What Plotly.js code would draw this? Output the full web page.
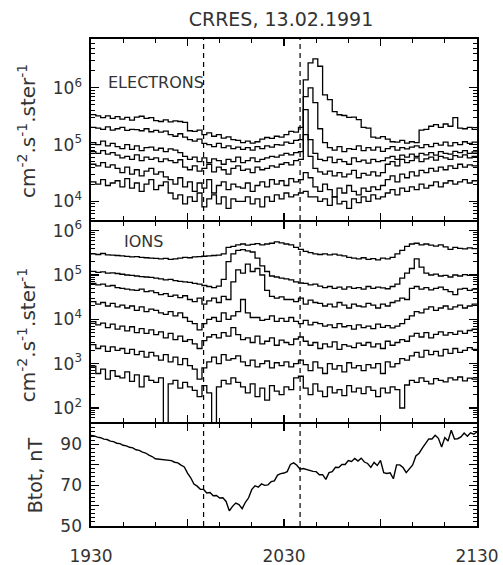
<!DOCTYPE html>
<html><head><meta charset="utf-8">
<script src="https://cdn.plot.ly/plotly-3.0.1.min.js"></script>
<style>html,body{margin:0;padding:0;background:#fff}#chart{width:503px;height:565px}</style>
</head><body><div id="chart"></div>
<script>
// ---- time axis (minutes after 19:30 UT) ----
const timeLabelMinutes = [0, 60, 120];
const timeTickLabels = ['1930', '2030', '2130'];
const timeHalfHourMinutes = [30, 90];
const eventMinutes = [35, 65];          // dashed markers (20:05, 20:35)
const binMinutes = 1.5;                 // particle-flux accumulation interval

// ---- electron fluxes (units of 1e3 cm^-2 s^-1 ster^-1), highest channel first ----
const elecUnit = 1e3;
const elec1 = [336,320,298,320,290,310,280,300,270,305,315,290,298,265,255,272,250,262,255,245,175,170,180,150,160,140,150,130,136,122,118,108,115,106,112,125,133,128,140,135,150,170,165,200,1380,2750,3230,2400,750,620,380,335,325,300,305,275,200,195,135,130,138,125,112,110,118,106,112,108,180,185,210,225,200,230,210,298,195,190,200,185];
const elec2 = [200,195,185,205,180,190,200,178,185,183,175,190,168,178,165,172,150,140,155,135,122,115,125,105,100,92,105,88,95,85,90,82,88,80,92,85,95,90,100,98,110,105,118,122,700,1000,550,190,108,88,80,92,75,85,82,95,78,88,80,90,76,85,92,80,88,84,90,95,88,100,92,105,98,110,95,108,100,112,105,110];
const elec3 = [108,100,115,95,105,92,85,100,82,95,78,88,90,80,86,75,84,80,72,62,55,60,50,58,48,56,52,45,55,50,60,48,52,58,50,55,58,62,60,65,70,66,72,75,411,122,70,55,52,60,48,55,50,45,58,50,53,47,55,50,52,58,62,55,65,60,68,62,70,66,72,65,75,70,68,76,72,78,70,74];
const elec4 = [75,70,78,68,72,65,58,62,55,66,52,60,55,58,50,56,52,48,54,40,36,42,34,38,45,33,40,36,30,38,42,35,37,32,40,36,38,42,40,45,48,44,52,55,150,62,38,33,30,34,28,32,27,30,35,26,31,29,33,28,32,45,50,42,55,48,52,58,50,56,60,53,62,58,55,64,60,66,58,62];
const elec5 = [45,42,48,40,44,38,32,40,30,36,28,34,38,30,33,27,24,20,26,18,22,15,21,17,24,14,19,22,16,20,18,17,21,15,19,22,18,24,20,23,19,25,22,24,32,26,18,15,20,16,12,17,14,19,15,13,17,15,18,16,19,24,28,22,30,26,33,28,35,32,38,34,40,36,42,38,45,40,44,42];
const elec6 = [22,20,24,19,21,23,18,25,17,21,15,20,24,16,19,22,14,11,13,9,12,10,14,8,11,13,9,12,7.5,11,10,10,12,9,11,8,12,10,13,11,14,12,13,14,15,12,12,10,11,8.5,12,9,10,7.5,11,9.5,12,10,13,11,12,14,16,13,17,15,18,16,20,17,19,22,18,21,23,20,22,24,21,23];

// ---- ion fluxes (units of 1e3 cm^-2 s^-1 ster^-1, except ion7 in units of 1) ----
const ionUnit = 1e3;
const ion1 = [300,290,305,285,280,275,270,262,255,260,250,245,240,236,230,238,225,232,240,250,245,255,260,265,270,275,280,300,420,440,480,500,470,490,510,480,500,520,560,530,500,480,420,380,340,320,300,290,300,285,295,280,270,250,240,230,245,225,235,220,240,230,250,300,360,440,500,520,480,500,470,450,480,430,380,420,400,390,410,395];
const ion2 = [121,115,118,110,112,108,104,100,98,95,92,90,88,85,82,78,80,75,72,70,68,65,62,58,55,52,56,80,200,300,360,375,350,330,240,160,120,95,90,85,82,78,70,66,65,60,62,56,52,55,50,53,48,54,50,52,48,55,50,53,51,49,55,62,85,110,140,230,150,110,100,105,95,98,90,100,95,102,98,100];
const ion3 = [65,60,62,56,58,52,50,48,46,45,48,42,44,40,36,38,33,35,31,34,28,25,30,22,26,30,24,33,28,70,130,110,175,120,140,100,45,33,30,32,28,28,25,30,22,27,24,23,20,22,19,24,21,18,22,20,19,23,21,18,22,20,24,26,30,28,50,55,48,52,46,50,53,47,42,36,48,50,45,48];
const ion4 = [25,22,24,20,23,19,21,18,20,16,19,15,17,16,14,13,15,12,14,11,9,8,5.8,8,10,11,9,14,10,12,15,28,14,11,11,9.5,10,12,9,10.5,9,11,9,8,9.5,7.5,8.5,8,7,7.5,6.5,8,6.8,7.2,6,7.5,6.5,7,6.2,7.8,6.6,7.2,6.4,7,8,10,12,15,14,17,19,16,18,20,17,19,21,18,20,22];
const ion5 = [8.9,7.5,8.2,6.5,7.8,6,7,5.5,6.8,5,6.2,4.8,5.8,4.5,5.2,3.8,4.8,3.5,4.2,3.2,3.5,2.8,2.2,3.3,4,4.5,3.8,5,4.2,6.5,4.5,3.5,3.8,3,4.2,2.8,3.2,3.8,2.6,3.4,3,2.7,3.6,4,3.2,2.6,3,2.2,2.8,2.4,3.1,2.1,2.7,2.5,2.3,2.9,2.6,3,2.4,2.8,2.2,3.2,2.6,3,3.5,3.2,4.2,4.8,4,5,3.8,4.6,5.2,4.4,5,4.6,5.4,4.8,5.6,6];
const ion6 = [2.7,2.2,2.5,1.9,2.4,2,2.2,1.7,2.1,1.6,1.9,1.4,1.8,1.5,1.2,1.6,1.1,1.4,0.95,1.3,0.9,0.75,0.45,0.8,1.1,1.4,1.0,1.6,1.2,1.3,1.5,1.1,0.9,1.2,0.85,1.0,1.15,0.8,1.05,0.9,1.1,0.85,1.0,1.2,0.95,0.7,1.1,0.8,0.6,1.0,0.75,0.9,0.65,1.05,0.8,0.9,0.7,0.95,0.8,1.0,0.6,1.1,0.85,1.0,1.3,1.2,1.5,1.8,1.4,2.0,1.6,1.9,1.5,2.1,1.7,2.2,1.8,2.0,2.3,2.1];
const ion7 = [880,600,750,450,700,520,480,650,400,560,300,520,420,380,480,20,350,420,280,380,300,250,180,320,220,20,300,420,350,480,380,300,220,350,180,280,150,320,240,200,300,260,480,520,280,200,350,240,180,300,220,260,190,320,230,280,210,300,250,180,280,220,300,260,100,330,420,380,480,400,350,460,420,390,480,430,500,410,470,450];

// ---- total magnetic field, nT, one sample per minute ----
const btot = [94.3,94.1,93.5,93.2,92.5,92.3,91.5,91.3,90.5,90.3,89.5,89.2,88.5,88.2,87.3,87.0,86.1,85.7,84.7,84.0,
  82.9,82.7,82.6,82.6,82.1,82.0,81.2,80.9,79.8,78.9,75.9,73.6,70.5,69.5,68.0,67.9,66.2,66.4,64.8,64.9,63.7,63.8,62.0,
  57.4,59.6,61.2,60.5,58.5,61.6,63.8,67.9,69.7,69.0,70.6,69.9,70.1,71.7,72.1,74.9,75.6,75.9,76.6,80.1,80.9,
  79.7,77.8,78.1,77.6,77.1,76.7,76.6,75.1,75.1,72.8,76.1,76.6,78.7,78.6,80.1,80.1,82.0,
  81.6,83.1,81.8,83.2,81.3,80.6,78.7,81.1,79.6,82.1,76.1,75.7,76.0,73.1,79.9,79.9,78.6,76.1,78.1,
  79.9,84.3,85.6,88.1,90.3,92.6,92.6,94.4,92.9,88.7,93.3,91.6,96.9,92.6,92.7,93.6,95.5,93.9,95.6,94.9,96.1];
const btotLabelValues = [50, 70, 90];
const btotUnlabelledValues = [60, 80, 100];

// ---- helpers ----
function binEdges(n){ const x=[]; for(let i=0;i<=n;i++) x.push(i*binMinutes); return x; }
function stepValues(vals, unit){ const y = vals.map(v=>v*unit); y.push(y[y.length-1]); return y; }
function logMinor(lo, hi){ const v=[]; for(let e=lo;e<=hi;e++) for(let m=2;m<=9;m++) v.push(m*Math.pow(10,e)); return v; }

const lineStyle = {color:'#000', width:1.3, shape:'hv'};
const traces = [];
[[elec1,elecUnit],[elec2,elecUnit],[elec3,elecUnit],[elec4,elecUnit],[elec5,elecUnit],[elec6,elecUnit]].forEach(([s,u])=>{
  traces.push({x:binEdges(s.length), y:stepValues(s,u), type:'scatter', mode:'lines', line:lineStyle, xaxis:'x3', yaxis:'y', hoverinfo:'skip', showlegend:false});
});
[[ion1,ionUnit],[ion2,ionUnit],[ion3,ionUnit],[ion4,ionUnit],[ion5,ionUnit],[ion6,ionUnit],[ion7,1]].forEach(([s,u])=>{
  traces.push({x:binEdges(s.length), y:stepValues(s,u), type:'scatter', mode:'lines', line:lineStyle, xaxis:'x2', yaxis:'y2', hoverinfo:'skip', showlegend:false});
});
traces.push({x:btot.map((_,i)=>i), y:btot, type:'scatter', mode:'lines', line:{color:'#000', width:1.4}, xaxis:'x', yaxis:'y3', hoverinfo:'skip', showlegend:false});
// empty carriers for the overlay tick-only axes
traces.push({x:[], y:[], type:'scatter', mode:'lines', xaxis:'x4', yaxis:'y3', hoverinfo:'skip', showlegend:false});
traces.push({x:[], y:[], type:'scatter', mode:'lines', xaxis:'x', yaxis:'y4', hoverinfo:'skip', showlegend:false});

const txtColor = '#333';
const FAM = 'DejaVu Sans, sans-serif';
const font = {family:FAM, size:17, color:txtColor};
const LW = 1.6;
const common = {showline:true, linecolor:'#000', linewidth:LW, mirror:'ticks', ticks:'inside', tickcolor:'#000', tickwidth:1.2, showgrid:false, zeroline:false, tickfont:font};
const minorX = []; for(let m=10;m<120;m+=10) if(m%30) minorX.push(m);
const xMinor = {tickmode:'array', tickvals:minorX, ticks:'inside', ticklen:4, tickcolor:'#000', tickwidth:1.2};
const allMajorX = timeLabelMinutes.concat(timeHalfHourMinutes).sort((a,b)=>a-b);

const H = 486.7, W = 386;
const py = (px) => (525.7 - px)/H;
const pxX = (px) => (px - 91)/W;
const gap = (LW/2)/H;
const b1 = 0.6263, b2 = 0.2115;

const layout = {
  width:503, height:565,
  margin:{l:91, r:26, t:39, b:39},
  paper_bgcolor:'#fff', plot_bgcolor:'#fff',
  font:font,
  title:{text:'CRRES, 13.02.1991', font:{family:FAM, size:19, color:txtColor}, x:281/503, xanchor:'center', y:1-19.5/565, yanchor:'middle', xref:'container', yref:'container'},
  xaxis: Object.assign({}, common, {anchor:'y3', range:[0,120], tickmode:'array', tickvals:timeLabelMinutes, ticktext:timeTickLabels, ticklen:7, ticklabelstandoff:14, minor:xMinor}),
  xaxis4: {overlaying:'x', anchor:'y3', matches:'x', showline:false, mirror:'ticks', ticks:'inside', ticklen:7, tickcolor:'#000', tickwidth:1.2, tickmode:'array', tickvals:timeHalfHourMinutes, showticklabels:false, showgrid:false, zeroline:false},
  xaxis2: Object.assign({}, common, {anchor:'y2', matches:'x', tickmode:'array', tickvals:allMajorX, ticklen:7, showticklabels:false, minor:xMinor}),
  xaxis3: Object.assign({}, common, {anchor:'y', matches:'x', tickmode:'array', tickvals:allMajorX, ticklen:7, showticklabels:false, minor:xMinor}),
  yaxis: Object.assign({}, common, {domain:[b1+gap,1], type:'log', range:[3.667,6.86], tickmode:'array',
    tickvals:[1e4,1e5,1e6], ticktext:['10<sup>4</sup>','10<sup>5</sup>','10<sup>6</sup>'], ticklen:8, ticklabelstandoff:4,
    minor:{tickmode:'array', tickvals:logMinor(3,6), ticks:'inside', ticklen:4, tickcolor:'#000', tickwidth:1}}),
  yaxis2: Object.assign({}, common, {domain:[b2+gap,b1-gap], type:'log', range:[1.68,6.2], tickmode:'array',
    tickvals:[1e2,1e3,1e4,1e5,1e6], ticktext:['10<sup>2</sup>','10<sup>3</sup>','10<sup>4</sup>','10<sup>5</sup>','10<sup>6</sup>'], ticklen:8, ticklabelstandoff:4,
    minor:{tickmode:'array', tickvals:logMinor(1,6), ticks:'inside', ticklen:4, tickcolor:'#000', tickwidth:1}}),
  yaxis3: Object.assign({}, common, {domain:[0,b2-gap], range:[50,100], tickmode:'array',
    tickvals:btotLabelValues, ticktext:btotLabelValues.map(String), ticklen:8, ticklabelstandoff:4,
    minor:{tickmode:'linear', tick0:50, dtick:2, ticks:'inside', ticklen:4, tickcolor:'#000', tickwidth:1}}),
  yaxis4: {overlaying:'y3', anchor:'x', matches:'y3', showline:false, mirror:'ticks', ticks:'inside', ticklen:8, tickcolor:'#000', tickwidth:1.2, tickmode:'array', tickvals:btotUnlabelledValues, showticklabels:false, showgrid:false, zeroline:false},
  shapes: eventMinutes.map(t=>({type:'line', xref:'x', yref:'paper', x0:t, x1:t, y0:0, y1:1, layer:'above',
    line:{color:'#000', width:1.2, dash:'5px,4px'}})),
  annotations: [
    {text:'ELECTRONS', xref:'paper', yref:'paper', x:pxX(106), y:py(82.5), xanchor:'left', yanchor:'middle', showarrow:false, font:{family:FAM, size:16, color:txtColor}},
    {text:'IONS', xref:'paper', yref:'paper', x:pxX(122), y:py(241), xanchor:'left', yanchor:'middle', showarrow:false, font:{family:FAM, size:16, color:txtColor}},
    {text:'cm<sup>-2</sup>.s<sup>-1</sup>.ster<sup>-1</sup>', xref:'paper', yref:'paper', x:pxX(27), y:py(131), xanchor:'center', yanchor:'middle', textangle:-90, showarrow:false, font:{family:FAM, size:20, color:txtColor}},
    {text:'cm<sup>-2</sup>.s<sup>-1</sup>.ster<sup>-1</sup>', xref:'paper', yref:'paper', x:pxX(27), y:py(335), xanchor:'center', yanchor:'middle', textangle:-90, showarrow:false, font:{family:FAM, size:20, color:txtColor}},
    {text:'Btot, nT', xref:'paper', yref:'paper', x:pxX(35), y:py(475), xanchor:'center', yanchor:'middle', textangle:-90, showarrow:false, font:{family:FAM, size:19, color:txtColor}}
  ]
};

Plotly.newPlot('chart', traces, layout, {staticPlot:true, displayModeBar:false});
</script></body></html>
